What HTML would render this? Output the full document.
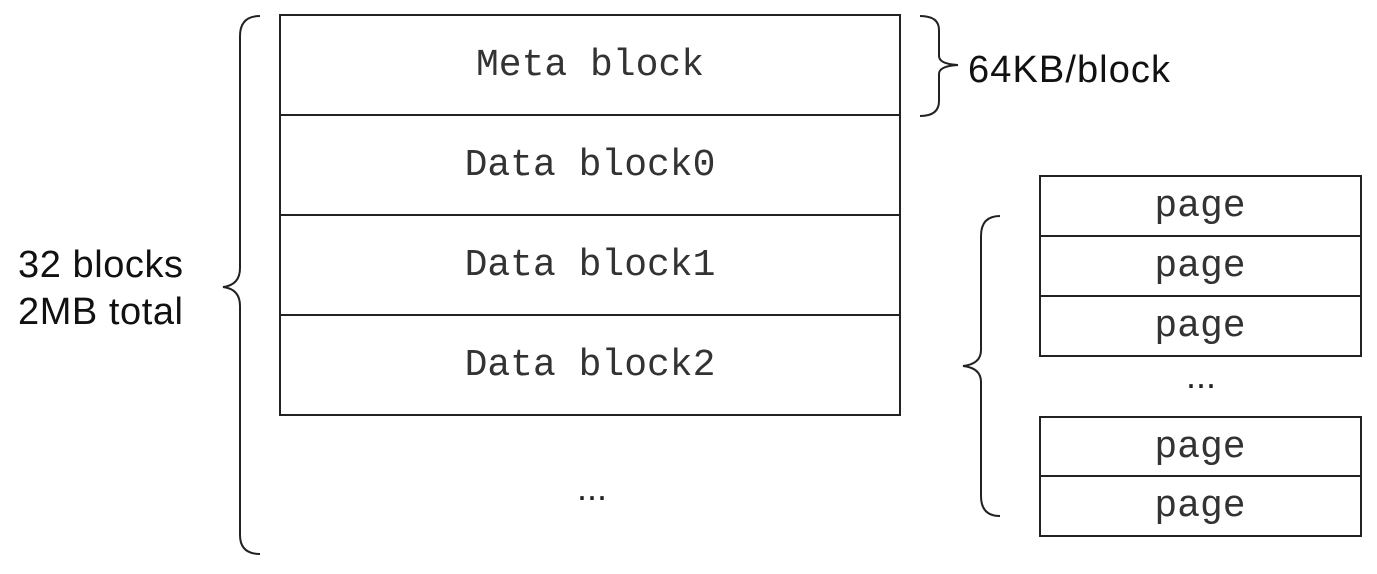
<!DOCTYPE html>
<html><head><meta charset="utf-8"><style>
html,body{margin:0;padding:0;background:#fff;}
svg{display:block}
.m{font-family:"Liberation Mono",monospace;font-size:38px;fill:#333;text-anchor:middle;}
.d{font-family:"Liberation Sans",sans-serif;font-size:36px;fill:#222;text-anchor:middle;}
.s{font-family:"Liberation Sans",sans-serif;font-size:38px;fill:#111;}
</style></head><body>
<svg width="1377" height="574" viewBox="0 0 1377 574" xmlns="http://www.w3.org/2000/svg">
<g fill="none" stroke="#222" stroke-width="2">
<rect x="280" y="15" width="620" height="400"/>
<line x1="280" y1="115" x2="900" y2="115"/>
<line x1="280" y1="215" x2="900" y2="215"/>
<line x1="280" y1="315" x2="900" y2="315"/>
<rect x="1040" y="176" width="321" height="180"/>
<line x1="1040" y1="236" x2="1361" y2="236"/>
<line x1="1040" y1="296" x2="1361" y2="296"/>
<rect x="1040" y="417" width="321" height="119"/>
<line x1="1040" y1="476" x2="1361" y2="476"/>
<path d="M260 16 Q240 16 240 36 L240 268 Q240 285 223 287 Q240 289 240 306 L240 535 Q240 554 260 554"/>
<path d="M920 16 Q939 16 939 30 L939 56 Q939 64 958 65 Q939 66 939 74 L939 101 Q939 116 920 116"/>
<path d="M1000 216 Q981 216 981 236 L981 350 Q981 364 963 366 Q981 368 981 382 L981 496 Q981 516 1000 516"/>
</g>
<text class="m" x="590" y="75">Meta block</text>
<text class="m" x="590" y="175">Data block0</text>
<text class="m" x="590" y="275">Data block1</text>
<text class="m" x="590" y="375">Data block2</text>
<text class="d" x="592" y="500">...</text>
<text class="m" x="1200" y="216">page</text>
<text class="m" x="1200" y="276">page</text>
<text class="m" x="1200" y="336">page</text>
<text class="d" x="1201" y="388">...</text>
<text class="m" x="1200" y="457">page</text>
<text class="m" x="1200" y="516">page</text>
<text class="s" x="968" y="82" textLength="202">64KB/block</text>
<text class="s" x="18" y="277" textLength="165">32 blocks</text>
<text class="s" x="18" y="324" textLength="165">2MB total</text>
</svg>
</body></html>
